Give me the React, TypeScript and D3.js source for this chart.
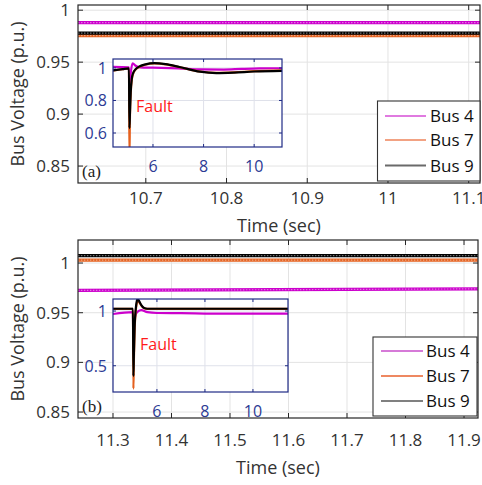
import React from "react";
import * as d3 from "d3";

// ---------- Data ----------
const legendLabels = ["Bus 4", "Bus 7", "Bus 9"];

// Panel (a) main
const timeA = [10.616, 10.86, 11.114];
const bus4A = [0.988, 0.988, 0.988];
const bus7A = [0.9755, 0.9755, 0.9755];
const bus9A = [0.9779, 0.9779, 0.9779];
const xTicksA = [10.7, 10.8, 10.9, 11, 11.1];
const yTicksA = [0.85, 0.9, 0.95, 1];

// Panel (a) inset
const insetTimeA9 = [4.42, 4.8, 5.05, 5.07, 5.09, 5.12, 5.16, 5.22, 5.3, 5.45, 5.7, 6.05, 6.5, 7.05, 7.85, 8.5, 9.2, 10.0, 11.1];
const insetBus9A = [0.985, 0.993, 0.997, 0.63, 0.72, 0.85, 0.93, 0.97, 0.99, 1.008, 1.022, 1.03, 1.024, 1.006, 0.977, 0.968, 0.971, 0.978, 0.982];
const insetBus7A = [0.984, 0.992, 0.996, 0.45, 0.7, 0.84, 0.925, 0.967, 0.988, 1.006, 1.02, 1.028, 1.022, 1.005, 0.978, 0.97, 0.973, 0.98, 0.985];
const insetTimeA4 = [4.42, 5.05, 5.07, 5.09, 5.13, 5.2, 5.3, 5.5, 6.0, 7.0, 7.9, 8.8, 9.5, 10.2, 11.1];
const insetBus4A = [1.006, 1.004, 0.8, 0.88, 0.98, 1.028, 1.015, 1.004, 1.002, 0.997, 0.991, 0.99, 0.994, 0.997, 0.998];
const insetXTicksA = [6, 8, 10];
const insetYTicksA = [0.6, 0.8, 1];

// Panel (b) main
const timeB = [11.24, 11.58, 11.924];
const bus4B = [0.9725, 0.9732, 0.974];
const bus7B = [1.003, 1.003, 1.003];
const bus9B = [1.0075, 1.0075, 1.0075];
const xTicksB = [11.3, 11.4, 11.5, 11.6, 11.7, 11.8, 11.9];
const yTicksB = [0.85, 0.9, 0.95, 1];

// Panel (b) inset
const insetTimeB9 = [4.17, 5.0, 5.02, 5.04, 5.07, 5.11, 5.16, 5.2, 5.26, 5.35, 5.45, 5.6, 7, 9, 11.46];
const insetBus9B = [1.021, 1.021, 0.405, 0.6, 0.85, 1.0, 1.09, 1.11, 1.09, 1.055, 1.03, 1.021, 1.021, 1.021, 1.021];
const insetBus7B = [1.02, 1.02, 0.29, 0.55, 0.82, 0.98, 1.07, 1.095, 1.08, 1.05, 1.028, 1.02, 1.02, 1.02, 1.02];
const insetTimeB4 = [4.17, 5.0, 5.02, 5.05, 5.1, 5.2, 5.35, 5.6, 6.0, 7.0, 8.0, 9.0, 10.0, 11.46];
const insetBus4B = [0.973, 0.99, 0.6, 0.85, 0.96, 0.995, 1.008, 0.99, 0.982, 0.98, 0.977, 0.976, 0.976, 0.976];
const insetXTicksB = [6, 8, 10];
const insetYTicksB = [0.5, 1];

// ---------- Styles ----------
const FONT = "'Open Sans', 'Noto Sans', sans-serif";
const C4 = "#cc00cc";
const C7 = "#e4601e";
const C9 = "#000000";
const AX = "#262626";
const TXT = "#333333";
const GRID = "#e3e3e3";
const INSET = "#1f2b85";
const INSET_TXT = "#2c3a94";

type Series = { t: number[]; v: number[]; color: string };

const fmt = (d: number) => String(d);

function MainPanel(props: {
  id: string;
  left: number; right: number; top: number; bottom: number;
  xDomain: [number, number]; yDomain: [number, number];
  xTicks: number[]; yTicks: number[];
  series: Series[];
  tag: string;
  tickBaseline: number; titleBaseline: number;
  legend: { x0: number; x1: number; y0: number; y1: number; rows: number[]; lx0: number; lx1: number; tx: number; colors: string[]; widths: number[] };
  inset: React.ReactNode;
}) {
  const { id, left, right, top, bottom } = props;
  const x = d3.scaleLinear().domain(props.xDomain).range([left, right]);
  const y = d3.scaleLinear().domain(props.yDomain).range([bottom, top]);
  const line = (s: Series) =>
    d3.line<number>().x((_, i) => x(s.t[i])).y((d) => y(d))(s.v) || "";
  const L = props.legend;
  return (
    <g>
      <defs>
        <clipPath id={id + "clip"}>
          <rect x={left} y={top} width={right - left} height={bottom - top} />
        </clipPath>
      </defs>
      <rect x={left} y={top} width={right - left} height={bottom - top} fill="#fff" />
      {props.xTicks.map((t) => (
        <line key={"gx" + t} x1={x(t)} x2={x(t)} y1={top} y2={bottom} stroke={GRID} strokeWidth={1} />
      ))}
      {props.yTicks.map((t) => (
        <line key={"gy" + t} x1={left} x2={right} y1={y(t)} y2={y(t)} stroke={GRID} strokeWidth={1} />
      ))}
      <g clipPath={`url(#${id}clip)`}>
        {props.series.map((s, i) => (
          <g key={"s" + i}>
            <path d={line(s)} fill="none" stroke={s.color} strokeWidth={3.2} />
            <path d={line(s)} fill="none" stroke="#fff" strokeOpacity={0.45} strokeWidth={1.2} strokeDasharray="1.5 1.5" />
          </g>
        ))}
      </g>
      {/* box */}
      <rect x={left} y={top} width={right - left} height={bottom - top} fill="none" stroke={AX} strokeWidth={1.2} />
      {props.xTicks.map((t) => (
        <g key={"tx" + t}>
          <line x1={x(t)} x2={x(t)} y1={bottom} y2={bottom - 5} stroke={AX} />
          <line x1={x(t)} x2={x(t)} y1={top} y2={top + 5} stroke={AX} />
          <text x={x(t)} y={props.tickBaseline} textAnchor="middle" fontSize={17} fontFamily={FONT} fill={TXT}>
            {fmt(t)}
          </text>
        </g>
      ))}
      {props.yTicks.map((t) => (
        <g key={"ty" + t}>
          <line x1={left} x2={left + 5} y1={y(t)} y2={y(t)} stroke={AX} />
          <line x1={right} x2={right - 5} y1={y(t)} y2={y(t)} stroke={AX} />
          <text x={left - 8} y={y(t)} dy="0.36em" textAnchor="end" fontSize={17} fontFamily={FONT} fill={TXT}>
            {fmt(t)}
          </text>
        </g>
      ))}
      <text x={(left + right) / 2} y={props.titleBaseline} textAnchor="middle" fontSize={18} fontFamily={FONT} fill={TXT}>
        Time (sec)
      </text>
      <text
        transform={`translate(24,${(top + bottom) / 2}) rotate(-90)`}
        textAnchor="middle"
        fontSize={18}
        fontFamily={FONT}
        fill={TXT}
      >
        Bus Voltage (p.u.)
      </text>
      <text x={left + 4} y={bottom - 6} fontSize={17} fontFamily="'Liberation Serif', 'DejaVu Serif', serif" fill="#222">
        {props.tag}
      </text>
      {props.inset}
      {/* legend */}
      <rect x={L.x0} y={L.y0} width={L.x1 - L.x0} height={L.y1 - L.y0} fill="#fff" stroke="#333" strokeWidth={1.1} />
      {legendLabels.map((lab, i) => (
        <g key={lab}>
          <line x1={L.lx0} x2={L.lx1} y1={L.rows[i]} y2={L.rows[i]} stroke={L.colors[i]} strokeWidth={L.widths[i]} />
          <text x={L.tx} y={L.rows[i]} dy="0.36em" fontSize={17} fontFamily={FONT} fill="#111">
            {lab}
          </text>
        </g>
      ))}
    </g>
  );
}

function Inset(props: {
  id: string;
  left: number; right: number; top: number; bottom: number;
  xDomain: [number, number]; yDomain: [number, number];
  xTicks: number[]; yTicks: number[];
  series: Series[];
  xLabelBaseline: number;
  fault: [number, number];
}) {
  const { id, left, right, top, bottom } = props;
  const x = d3.scaleLinear().domain(props.xDomain).range([left, right]);
  const y = d3.scaleLinear().domain(props.yDomain).range([bottom, top]);
  const line = (s: Series) =>
    d3.line<number>().x((_, i) => x(s.t[i])).y((d) => y(d)).curve(d3.curveMonotoneX)(s.v) || "";
  return (
    <g>
      <defs>
        <clipPath id={id + "clip"}>
          <rect x={left} y={top} width={right - left} height={bottom - top} />
        </clipPath>
      </defs>
      <rect x={left} y={top} width={right - left} height={bottom - top} fill="#fff" />
      {props.xTicks.map((t) => (
        <line key={"gx" + t} x1={x(t)} x2={x(t)} y1={top} y2={bottom} stroke="#dfe1ea" />
      ))}
      {props.yTicks.map((t) => (
        <line key={"gy" + t} x1={left} x2={right} y1={y(t)} y2={y(t)} stroke="#dfe1ea" />
      ))}
      <g clipPath={`url(#${id}clip)`}>
        {props.series.map((s, i) => (
          <path key={i} d={line(s)} fill="none" stroke={s.color} strokeWidth={2.2} strokeLinejoin="round" />
        ))}
      </g>
      <rect x={left} y={top} width={right - left} height={bottom - top} fill="none" stroke={INSET} strokeWidth={1.2} />
      {props.xTicks.map((t) => (
        <g key={"tx" + t}>
          <line x1={x(t)} x2={x(t)} y1={bottom} y2={bottom - 3} stroke={INSET} />
          <line x1={x(t)} x2={x(t)} y1={top} y2={top + 3} stroke={INSET} />
          <text x={x(t)} y={props.xLabelBaseline} textAnchor="middle" fontSize={16} fontFamily={FONT} fill={INSET_TXT}>
            {fmt(t)}
          </text>
        </g>
      ))}
      {props.yTicks.map((t) => (
        <g key={"ty" + t}>
          <line x1={left} x2={left + 3} y1={y(t)} y2={y(t)} stroke={INSET} />
          <line x1={right} x2={right - 3} y1={y(t)} y2={y(t)} stroke={INSET} />
          <text x={left - 6} y={y(t)} dy="0.36em" textAnchor="end" fontSize={16} fontFamily={FONT} fill={INSET_TXT}>
            {fmt(t)}
          </text>
        </g>
      ))}
      <text x={props.fault[0]} y={props.fault[1]} fontSize={16} fontFamily={FONT} fill="#ff1a1a">
        Fault
      </text>
    </g>
  );
}

export default function App() {
  const seriesA: Series[] = [
    { t: timeA, v: bus4A, color: C4 },
    { t: timeA, v: bus7A, color: C7 },
    { t: timeA, v: bus9A, color: C9 },
  ];
  const seriesB: Series[] = [
    { t: timeB, v: bus4B, color: C4 },
    { t: timeB, v: bus7B, color: C7 },
    { t: timeB, v: bus9B, color: C9 },
  ];
  const insetSeriesA: Series[] = [
    { t: insetTimeA4, v: insetBus4A, color: C4 },
    { t: insetTimeA9, v: insetBus7A, color: C7 },
    { t: insetTimeA9, v: insetBus9A, color: C9 },
  ];
  const insetSeriesB: Series[] = [
    { t: insetTimeB4, v: insetBus4B, color: C4 },
    { t: insetTimeB9, v: insetBus7B, color: C7 },
    { t: insetTimeB9, v: insetBus9B, color: C9 },
  ];
  return (
    <div style={{ position: "absolute", left: 0, top: 0 }}>
      <svg width={482} height={485} style={{ display: "block", background: "#fff" }}>
        <MainPanel
          id="pa"
          left={78} right={480} top={5} bottom={183}
          xDomain={[10.616, 11.114]} yDomain={[0.8337, 1.005]}
          xTicks={xTicksA} yTicks={yTicksA}
          series={seriesA}
          tag="(a)"
          tickBaseline={204}
          titleBaseline={232}
          legend={{ x0: 377.5, x1: 480, y0: 101, y1: 181, rows: [116, 140, 165.5], lx0: 385, lx1: 426, tx: 430, colors: ["#e07ae0", "#f2a283", "#6a6a6a"], widths: [2, 2, 2] }}
          inset={
            <Inset
              id="ia"
              left={113} right={282} top={59} bottom={147}
              xDomain={[4.42, 11.1]} yDomain={[0.514, 1.055]}
              xTicks={insetXTicksA} yTicks={insetYTicksA}
              series={insetSeriesA}
              xLabelBaseline={172}
              fault={[136, 112]}
            />
          }
        />
        <MainPanel
          id="pb"
          left={78} right={478} top={240} bottom={418}
          xDomain={[11.2402, 11.9239]} yDomain={[0.844, 1.0232]}
          xTicks={xTicksB} yTicks={yTicksB}
          series={seriesB}
          tag="(b)"
          tickBaseline={446}
          titleBaseline={474}
          legend={{ x0: 373, x1: 477, y0: 337, y1: 416, rows: [351, 376, 401], lx0: 381, lx1: 423, tx: 426, colors: ["#d67ad8", "#e8602c", "#808080"], widths: [2, 1.4, 2.2] }}
          inset={
            <Inset
              id="ib"
              left={113} right={288} top={299} bottom={392}
              xDomain={[4.17, 11.46]} yDomain={[0.26, 1.11]}
              xTicks={insetXTicksB} yTicks={insetYTicksB}
              series={insetSeriesB}
              xLabelBaseline={417}
              fault={[140, 350]}
            />
          }
        />
      </svg>
    </div>
  );
}
